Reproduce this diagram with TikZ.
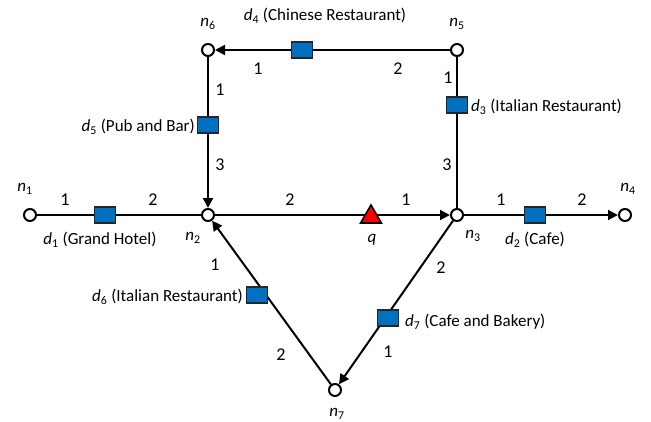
\documentclass[tikz,border=0pt]{standalone}
\usepackage{fontspec}
\setmainfont{Carlito}
\usetikzlibrary{arrows.meta,shapes.geometric}
\definecolor{dblue}{RGB}{0,112,192}
\newcommand\lab[2]{\textit{#1}\textsubscript{#2}}
\begin{document}
\begin{tikzpicture}[x=1pt,y=-1pt,
  vert/.style={circle,draw,line width=2pt,fill=white,minimum size=12pt,inner sep=0pt},
  obj/.style={rectangle,draw=black!85,line width=1.8pt,fill=dblue,minimum width=21pt,minimum height=16pt,inner sep=0pt},
  edge/.style={line width=2pt},
  arr/.style={edge,-{Triangle[length=10pt,width=10pt]}},
  txt/.style={font=\fontsize{17}{20}\selectfont,inner sep=1pt},
  num/.style={font=\fontsize{18}{20}\selectfont,inner sep=1pt}]
\useasboundingbox (0,0) rectangle (651,421);
\node[vert] (n1) at (30,215) {};
\node[vert] (n2) at (208,215) {};
\node[vert] (n3) at (457,215) {};
\node[vert] (n4) at (625,215) {};
\node[vert] (n5) at (457,50) {};
\node[vert] (n6) at (208,50) {};
\node[vert] (n7) at (335,390) {};
% edges
\draw[edge] (n1) -- (n2);
\draw[arr] (n2) -- (n3);
\draw[arr] (n3) -- (n4);
\draw[arr] (n5) -- (n6);
\draw[edge] (n5) -- (n3);
\draw[arr] (n6) -- (n2);
\draw[arr] (n7) -- (n2);
\draw[arr] (n3) -- (n7);
% objects
\node[obj] (d1) at (105,215) {};
\node[obj] (d2) at (535,215) {};
\node[obj] (d3) at (457,105) {};
\node[obj] (d4) at (302,50) {};
\node[obj] (d5) at (208,125) {};
\node[obj] (d6) at (257,295) {};
\node[obj] (d7) at (388,318) {};
\node[draw=black,line width=1.6pt,fill=red,regular polygon,regular polygon sides=3,minimum size=24pt,inner sep=0pt] (q) at (371,217) {};
% vertex labels
\node[txt] at (25,189) {\lab{n}{1}};
\node[txt] at (193,238) {\lab{n}{2}};
\node[txt] at (473,236) {\lab{n}{3}};
\node[txt] at (628,189) {\lab{n}{4}};
\node[txt] at (457,24) {\lab{n}{5}};
\node[txt] at (208,24) {\lab{n}{6}};
\node[txt] at (337,414) {\lab{n}{7}};
\node[txt] at (372,240) {\textit{q}};
% object labels
\node[txt] at (100,240) {\lab{d}{1} (Grand Hotel)};
\node[txt] at (535,240) {\lab{d}{2} (Cafe)};
\node[txt,anchor=west] at (470,107) {\lab{d}{3} (Italian Restaurant)};
\node[txt] at (325,16) {\lab{d}{4} (Chinese Restaurant)};
\node[txt,anchor=east] at (196,127) {\lab{d}{5} (Pub and Bar)};
\node[txt,anchor=east] at (244,297) {\lab{d}{6} (Italian Restaurant)};
\node[txt,anchor=west] at (404,322) {\lab{d}{7} (Cafe and Bakery)};
% numbers
\node[num] at (65,200) {1};
\node[num] at (153,200) {2};
\node[num] at (290,200) {2};
\node[num] at (406,200) {1};
\node[num] at (501,200) {1};
\node[num] at (582,200) {2};
\node[num] at (258,69) {1};
\node[num] at (398,69) {2};
\node[num] at (448,78) {1};
\node[num] at (447,165) {3};
\node[num] at (220,90) {1};
\node[num] at (220,165) {3};
\node[num] at (215,265) {1};
\node[num] at (281,355) {2};
\node[num] at (441,268) {2};
\node[num] at (388,352) {1};
\end{tikzpicture}
\end{document}
